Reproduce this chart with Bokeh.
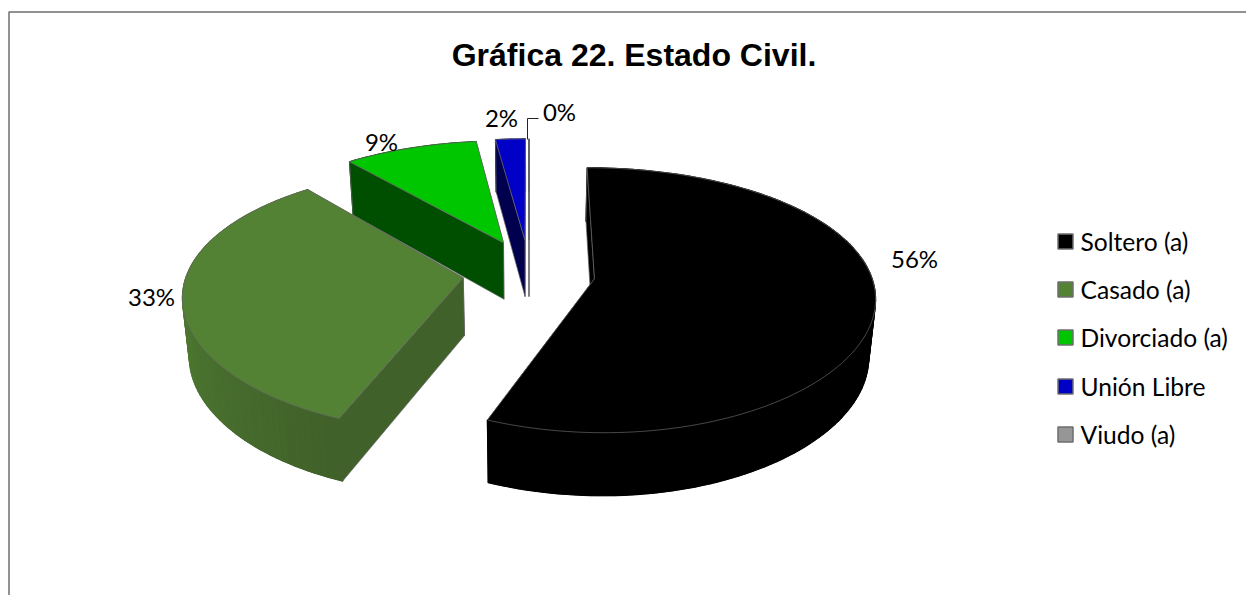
import math

from bokeh.core.properties import value
from bokeh.embed import file_html
from bokeh.models import ColumnDataSource, Range1d
from bokeh.plotting import figure
from bokeh.resources import INLINE

# Survey shares, in percent
categories = ["Soltero (a)", "Casado (a)", "Divorciado (a)", "Unión Libre", "Viudo (a)"]
shares = [56, 33, 9, 2, 0]
share_labels = ["56%", "33%", "9%", "2%", "0%"]

top_colors = ["#000000", "#548235", "#00C600", "#0000C6", "#969696"]
side_colors = ["#000000", "#40612A", "#004E00", "#00004E", "#5A5A5A"]
arc_light_colors = ["#000000", "#4F7A32", "#006400", "#000064", "#5A5A5A"]

WIDTH, HEIGHT = 1246, 595

# Projection of the exploded disc
CX, CY = 528.5, 272.0
RX, RY = 276.0, 127.0
PERSPECTIVE_X, PERSPECTIVE_Y = 0.125, 0.16
THICKNESS = 57.5
BASE_TAPER = 0.98
EXPLODE_X, EXPLODE_Y = 0.24, 0.265
EDGE = "#666666"


def project(x, y, lifted=True):
    s_x = 1.0 / (1.0 + PERSPECTIVE_X * y)
    s_y = 1.0 / (1.0 + PERSPECTIVE_Y * y)
    sx = RX * x * s_x
    sy = CY - RY * y * s_y
    if not lifted:
        sx *= BASE_TAPER
        sy += THICKNESS * math.sqrt(s_y)
    return CX + sx, sy


def mix(c1, c2, t):
    a = [int(c1[i:i + 2], 16) for i in (1, 3, 5)]
    b = [int(c2[i:i + 2], 16) for i in (1, 3, 5)]
    return "#%02X%02X%02X" % tuple(round(p + (q - p) * t) for p, q in zip(a, b))


faces = {"xs": [], "ys": [], "fill": [], "line": [], "width": []}


def add_face(points, fill, line, width):
    faces["xs"].append([pt[0] for pt in points])
    faces["ys"].append([pt[1] for pt in points])
    faces["fill"].append(fill)
    faces["line"].append(line)
    faces["width"].append(width)


def slice_faces(index, start, sweep):
    mid = math.radians(start + sweep / 2)
    ox, oy = EXPLODE_X * math.sin(mid), EXPLODE_Y * math.cos(mid)
    steps = max(2, int(sweep / 1.5))
    angles = [math.radians(start + sweep * i / steps) for i in range(steps + 1)]
    rim = [(ox + math.sin(a), oy + math.cos(a)) for a in angles]
    apex = (ox, oy)

    side = side_colors[index]
    # one solid band under the rim keeps the shaded strips free of seams
    band = [project(*pt) for pt in rim] + [project(*pt, False) for pt in reversed(rim)]
    add_face(band, side, EDGE, 0.7)

    # radial walls and the rim wall are painted far to near
    walls = []
    for corner in (rim[0], rim[-1]):
        quad = [project(*apex), project(*corner), project(*corner, False), project(*apex, False)]
        walls.append(((apex[1] + corner[1]) / 2, quad, side, EDGE, 0.7))
    for i in range(steps):
        p0, p1 = rim[i], rim[i + 1]
        quad = [project(*p0), project(*p1), project(*p1, False), project(*p0, False)]
        shade = min(1.0, max(0.0, (math.degrees(angles[i]) - start) / max(sweep * 0.5, 1e-6)))
        color = mix(side, arc_light_colors[index], shade)
        walls.append(((p0[1] + p1[1]) / 2, quad, color, color, 1.2))
    for _, quad, fill, line, width in sorted(walls, key=lambda w: -w[0]):
        add_face(quad, fill, line, width)

    top = [project(*apex)] + [project(*pt) for pt in rim]
    add_face(top, top_colors[index], EDGE, 0.7)


starts = []
running = 0.0
for share in shares:
    starts.append(running)
    running += share * 3.6

# Slices at the back are painted before the two large front ones
for i in [4, 3, 2, 1, 0]:
    slice_faces(i, starts[i], shares[i] * 3.6)

p = figure(
    width=WIDTH,
    height=HEIGHT,
    x_range=Range1d(0, WIDTH),
    y_range=Range1d(HEIGHT, 0),
    output_backend="svg",
    toolbar_location=None,
    min_border=0,
    background_fill_color="white",
    border_fill_color="white",
)
p.axis.visible = False
p.grid.visible = False
p.outline_line_color = None

# Chart frame: the top and left edges fall inside the page
p.line([8.5, 8.5, WIDTH], [HEIGHT, 11.5, 11.5], line_color="#6E6E6E", line_width=1.5)

p.patches(
    "xs", "ys", source=ColumnDataSource(faces),
    fill_color="fill", line_color="line", line_width="width",
)

# Leader from the empty slice to its label
p.line([527, 527, 538], [139, 118, 118], line_color="#222222", line_width=1)

title_font = value("Liberation Sans")
label_font = value("Lato")

p.text([633.5], [54], text=["Gráfica 22. Estado Civil."], text_font=title_font,
       text_font_size="32px", text_font_style="bold", text_align="center",
       text_baseline="middle", text_color="#000000")

label_x = [914, 151, 381, 501, 559]
label_y = [258, 296, 141, 117, 111]
p.text(label_x, label_y, text=share_labels, text_font=label_font, text_font_size="24px",
       text_align="center", text_baseline="middle", text_color="#000000")

legend_y = [241, 289, 337, 386, 434]
p.rect([1065] * 5, legend_y, width=15, height=15, fill_color=top_colors,
       line_color=["#6E6E6E"] * 5, line_width=1.5)
p.text([1080] * 5, legend_y, text=categories, text_font=label_font, text_font_size="24.6px",
       text_align="left", text_baseline="middle", text_color="#000000")

open("out.html", "w").write(file_html(p, INLINE))
